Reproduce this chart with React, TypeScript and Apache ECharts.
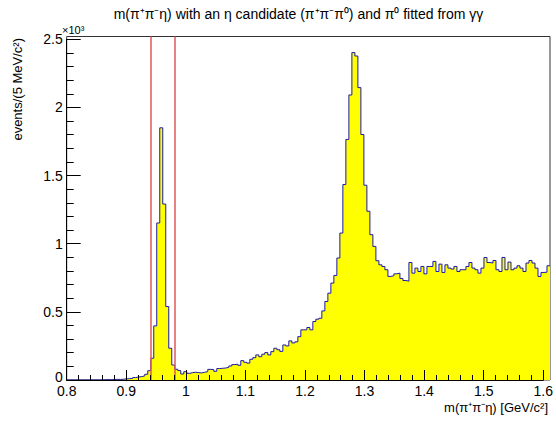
import React, { useEffect, useRef } from 'react';
import * as echarts from 'echarts';

// Histogram binning (5 MeV bins starting at 0.8 GeV)
const binLow = 0.8;
const binWidth = 0.005;
// Events per bin
const counts = [
  0, 0, 0, 0, 0, 0, 0, 0, 0, 0, 0, 0,
  2, 3, 2, 4, 5, 4, 6, 8,
  10, 12, 18, 22, 25, 30, 42, 68,
  160, 397, 1152, 1850, 1291, 539, 233, 110,
  79, 69, 44, 61, 49, 54, 57,
  54, 52, 57, 61, 78, 76, 64, 84,
  86, 88, 93, 103, 113, 116, 108, 142, 130, 124,
  152, 164, 184, 171, 189, 201, 184, 208, 233, 222,
  210, 257, 250, 287, 272, 280, 318, 368, 368, 385,
  368, 429, 446, 453, 507, 576, 637, 711, 767, 895,
  1078, 1434, 1765, 2091, 2402, 2377, 2145, 1801, 1429, 1238,
  1066, 980, 875, 845, 833, 809, 760, 765, 779, 784,
  745, 730, 725, 862, 784, 821, 796, 833, 779, 833,
  833, 870, 796, 850, 789, 845, 821, 814, 833, 796,
  809, 809, 833, 862, 821, 809, 784, 821, 899, 862,
  858, 877, 809, 796, 899, 809, 865, 809, 821, 838,
  821, 796, 858, 877, 858, 821, 760, 789, 791, 838,
];
// eta' selection window (vertical red lines)
const cutLines = [0.938, 0.978];
// Axis ranges
const xDataRange = [0.8, 1.605];
const yDataRange = [0, 2520];
const xTickRange = [0.8, 1.6];
const yTickRange = [0, 2500];
const xTickStep = 0.1;
const yTickStep = 500;
// Texts
const titleText = 'm(π⁺π⁻η) with an η candidate (π⁺π⁻π⁰) and π⁰ fitted from γγ';
const xTitle = 'm(π⁺π⁻η) [GeV/c²]';
const yTitle = 'events/(5 MeV/c²)';
const yExponent = '×10³';

const FONT = '"Liberation Sans", Arial, Helvetica, sans-serif';

export default function App() {
  const ref = useRef<HTMLDivElement>(null);
  useEffect(() => {
    const chart = echarts.init(ref.current as HTMLDivElement, null, { renderer: 'svg' });
    const pts: number[][] = counts.map((c, i) => [binLow + binWidth * i, c]);
    pts.push([binLow + binWidth * counts.length, counts[counts.length - 1]]);

    chart.setOption({
      animation: false,
      grid: [
        { left: 66.7, right: 6, top: 36.5, bottom: 43, show: true, borderColor: '#333', borderWidth: 1, backgroundColor: 'transparent' },
        { left: 66.7, right: 8.7, top: 39.3, bottom: 43 },
      ],
      xAxis: [
        { type: 'value', gridIndex: 0, min: xDataRange[0], max: xDataRange[1], show: false },
        {
          type: 'value', gridIndex: 1, min: xTickRange[0], max: xTickRange[1], interval: xTickStep, z: 5,
          axisLine: { show: true, onZero: false, lineStyle: { color: '#000', width: 1 } },
          axisTick: { show: true, inside: true, length: 10, lineStyle: { color: '#000', width: 1 } },
          minorTick: { show: true, splitNumber: 5, length: 5, lineStyle: { color: '#000', width: 1 } },
          splitLine: { show: false },
          axisLabel: {
            show: true, margin: 6, color: '#000', fontSize: 14, lineHeight: 10, fontFamily: FONT,
            formatter: (v: number) => String(Math.round(v * 10) / 10),
          },
        },
      ],
      yAxis: [
        { type: 'value', gridIndex: 0, min: yDataRange[0], max: yDataRange[1], show: false },
        {
          type: 'value', gridIndex: 1, min: yTickRange[0], max: yTickRange[1], interval: yTickStep, z: 5,
          axisLine: { show: true, onZero: false, lineStyle: { color: '#000', width: 1 } },
          axisTick: { show: true, inside: true, length: 14, lineStyle: { color: '#000', width: 1 } },
          minorTick: { show: true, splitNumber: 5, length: 7, lineStyle: { color: '#000', width: 1 } },
          splitLine: { show: false },
          axisLabel: {
            show: true, margin: 4, color: '#000', fontSize: 14, lineHeight: 10, fontFamily: FONT,
            formatter: (v: number) => (v === 0 ? '{z|0}' : String(v / 1000)),
            rich: { z: { fontSize: 14, lineHeight: 10, fontFamily: FONT, color: '#000', padding: [0, 0, 6, 0] } },
          },
        },
      ],
      series: [
        {
          type: 'line', xAxisIndex: 0, yAxisIndex: 0, data: pts, step: 'end',
          symbol: 'none', showSymbol: false, z: 2,
          lineStyle: { color: '#1a1aa8', width: 1 },
          areaStyle: { color: '#ffff00', opacity: 1 },
          markLine: {
            silent: true, symbol: ['none', 'none'], animation: false,
            label: { show: false },
            lineStyle: { color: '#e05858', width: 1.5, type: 'solid' },
            data: cutLines.map((x) => ({ xAxis: x })),
          },
        },
      ],
      graphic: [
        {
          type: 'text', x: 298.5, y: 14, z: 10,
          style: { text: titleText, fill: '#000', fontSize: 14, fontFamily: FONT, align: 'center', verticalAlign: 'middle', textAlign: 'center', textVerticalAlign: 'middle' },
        },
        {
          type: 'text', x: 62, y: 29.5, z: 10,
          style: { text: yExponent, fill: '#000', fontSize: 11, fontFamily: FONT, align: 'left', verticalAlign: 'middle', textAlign: 'left', textVerticalAlign: 'middle' },
        },
        {
          type: 'text', x: 548, y: 407, z: 10,
          style: { text: xTitle, fill: '#000', fontSize: 13, fontFamily: FONT, align: 'right', verticalAlign: 'middle', textAlign: 'right', textVerticalAlign: 'middle' },
        },
        {
          type: 'text', x: 17.5, y: 38, rotation: Math.PI / 2, z: 10,
          style: { text: yTitle, fill: '#000', fontSize: 13, fontFamily: FONT, align: 'right', verticalAlign: 'middle', textAlign: 'right', textVerticalAlign: 'middle' },
        },
      ],
    });
    return () => chart.dispose();
  }, []);
  return <div ref={ref} style={{ position: 'absolute', left: 0, top: 0, width: 556, height: 423 }} />;
}
